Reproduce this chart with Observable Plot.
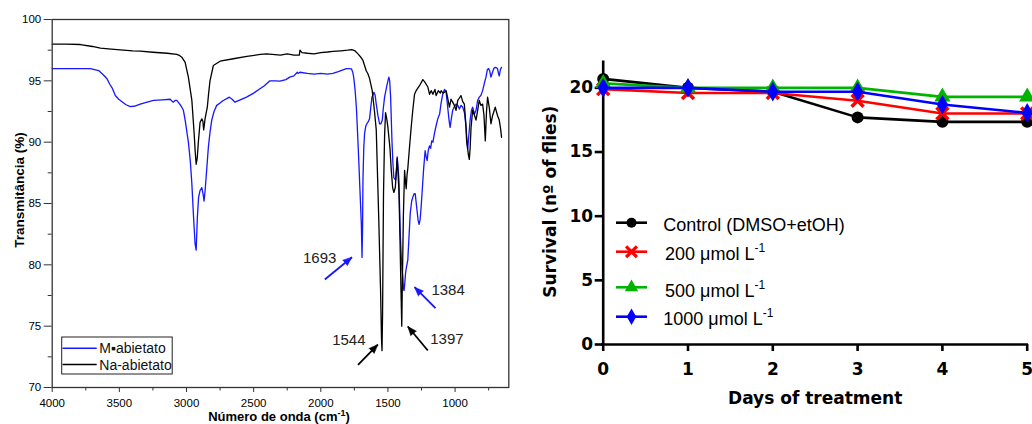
<!DOCTYPE html>
<html><head><meta charset="utf-8">
<script src="https://cdn.jsdelivr.net/npm/d3@7"></script>
<script src="https://cdn.jsdelivr.net/npm/@observablehq/plot@0.6"></script>
<style>
html,body{margin:0;padding:0;background:#fff;}
#wrap{position:relative;width:1032px;height:424px;overflow:hidden;background:#fff;}
#left{position:absolute;left:0;top:0;}
#right{position:absolute;left:530px;top:0;}
#overlay{position:absolute;left:0;top:0;pointer-events:none;}
svg{overflow:visible;}
</style></head><body>
<div id="wrap"><div id="left"></div><div id="right"></div><svg id="overlay" width="1032" height="424"></svg></div>
<script>
// ---------------- Left panel: FTIR spectra ----------------
const naWn = [4000,3900,3790,3700,3641,3560,3493,3400,3344,3250,3144,3072,3050,3035,3010,2986,2960,2943,2935,2928,2920,2911,2899,2886,2878,2872,2866,2862,2845,2835,2825,2800,2750,2651,2550,2450,2403,2300,2250,2200,2160,2155,2140,2100,2050,2000,1950,1910,1850,1800,1770,1748,1723,1700,1686,1661,1650,1637,1617,1600,1587,1568,1555,1548,1544,1540,1533,1525,1518,1510,1500,1485,1475,1465,1456,1445,1438,1431,1425,1418,1410,1403,1397,1392,1385,1376,1368,1364,1358,1352,1340,1327,1315,1302,1290,1265,1240,1225,1203,1190,1178,1165,1150,1141,1125,1110,1104,1090,1079,1067,1055,1042,1030,1018,1005,993,980,968,956,943,931,920,914,900,894,888,881,869,856,844,832,820,808,795,785,775,766,758,745,733,720,701,685,671,660,654];
const naT  = [98.0,98.0,97.96,97.8,97.66,97.58,97.53,97.45,97.42,97.33,97.25,97.15,97.05,96.93,96.5,95.3,93.4,90.7,89.2,88.2,88.7,90.1,91.6,91.9,91.7,91.0,91.5,91.9,92.85,94.0,95.0,96.25,96.6,96.8,97.0,97.15,97.2,97.1,97.2,97.1,97.1,97.5,97.3,97.25,97.2,97.3,97.35,97.4,97.45,97.5,97.55,97.47,97.2,96.9,96.66,95.8,95.6,95.2,94.2,92.5,91.0,83.6,78.0,74.0,73.0,76.0,85.8,90.5,92.4,92.0,91.2,89.5,87.7,86.3,85.9,86.3,87.5,88.7,87.5,86.0,82.0,78.0,75.0,79.0,84.0,87.7,86.6,86.2,87.3,87.85,89.5,91.2,92.6,93.9,94.2,94.6,95.1,94.9,94.5,93.9,94.2,93.9,94.3,93.8,94.2,94.0,94.2,94.0,94.07,94.2,93.6,92.85,93.5,93.26,93.0,92.6,93.4,93.6,93.8,93.3,93.1,91.5,90.1,88.9,88.6,89.5,91.2,92.6,92.2,91.8,92.6,93.4,93.0,93.1,92.2,90.1,92.5,93.67,92.8,91.5,92.2,92.85,92.2,91.8,91.0,90.4];
const mWn = [4000,3900,3800,3716,3654,3620,3592,3570,3554,3530,3505,3480,3450,3418,3380,3344,3300,3245,3180,3121,3105,3097,3085,3072,3050,3035,3023,3010,2986,2972,2960,2948,2936,2928,2919,2910,2899,2886,2877,2869,2862,2854,2837,2825,2812,2795,2775,2750,2726,2700,2681,2660,2639,2600,2553,2500,2453,2420,2379,2340,2305,2260,2231,2200,2175,2169,2156,2100,2050,2000,1950,1910,1870,1835,1809,1790,1772,1762,1755,1745,1735,1725,1716,1708,1698,1693,1689,1686,1680,1674,1665,1657,1645,1637,1628,1619,1604,1595,1587,1575,1562,1552,1542,1535,1525,1508,1498,1493,1487,1480,1470,1463,1456,1443,1437,1431,1425,1419,1414,1409,1400,1395,1389,1384,1380,1376,1369,1364,1352,1343,1334,1323,1315,1305,1297,1285,1275,1268,1260,1253,1245,1235,1223,1215,1208,1200,1191,1182,1174,1165,1154,1140,1129,1115,1104,1092,1079,1067,1055,1045,1037,1028,1018,1005,993,980,968,955,943,930,918,910,906,898,888,878,869,856,844,832,820,808,795,782,770,760,751,742,733,727,721,712,701,690,684,677,671,663,654];
const mT  = [96.0,96.0,96.0,96.0,95.84,95.5,95.17,94.7,94.43,93.8,93.5,93.3,93.05,92.9,92.95,93.1,93.25,93.4,93.45,93.5,93.3,93.26,93.4,93.4,93.1,92.85,92.6,91.8,90.0,88.5,86.6,84.0,81.7,81.2,83.9,85.5,86.06,86.3,85.8,85.2,86.0,87.1,89.6,90.8,91.8,92.5,93.0,93.2,93.4,93.55,93.67,93.5,93.26,93.45,93.67,94.0,94.35,94.6,95.0,95.0,94.97,95.1,95.3,95.4,95.7,95.6,95.7,95.6,95.55,95.6,95.55,95.6,95.75,95.9,96.0,96.0,95.98,95.7,95.3,94.3,92.85,90.5,88.2,86.0,83.3,80.6,83.0,86.9,89.5,90.7,91.3,91.5,91.7,91.9,92.8,93.67,94.07,93.8,93.1,92.2,91.5,91.5,91.8,92.7,93.67,94.6,95.1,95.3,95.0,93.67,90.1,88.3,87.1,86.9,87.7,88.8,88.0,87.1,85.0,82.8,80.5,79.6,79.0,78.0,77.9,78.3,79.3,79.7,80.4,82.3,84.2,85.2,85.5,85.8,85.8,84.6,83.6,83.3,83.7,84.7,86.0,87.7,89.3,88.8,88.5,89.3,89.7,89.5,90.1,90.0,90.7,91.4,91.9,92.3,93.2,93.9,94.3,94.1,92.85,91.8,91.2,91.9,92.6,92.9,93.1,93.0,92.7,93.0,92.85,92.4,91.2,89.9,89.45,90.5,91.8,92.6,92.85,92.3,92.6,93.4,93.67,93.8,94.2,94.8,95.3,95.9,96.0,95.8,95.3,95.5,95.7,96.0,96.1,96.05,96.0,95.6,95.4,95.9,96.1];
const spectrumNames = ["M\u25AAabietato", "Na-abietato"];
const wnMajor = [4000,3500,3000,2500,2000,1500,1000];
const wnMinor = [3750,3250,2750,2250,1750,1250,750];
const tMajor = [70,75,80,85,90,95,100];
const tMinor = [72.5,77.5,82.5,87.5,92.5,97.5];
// peak annotations
const peakLabels = ["1693","1384","1544","1397"];
const peakLabelWn = [2008,1052,1791,1061];
const peakLabelT = [80.57,77.97,73.89,73.97];
const arrowWn1 = [1970,1146,1723,1203];
const arrowT1  = [78.8,76.47,71.85,73.02];
const arrowWn2 = [1768,1302,1575,1352];
const arrowT2  = [80.62,78.18,73.5,74.97];
const arrowIsBlue = [true,true,false,false];

// ---------------- Right panel: survival ----------------
const days = [0,1,2,3,4,5];
const control = [20.7,20.0,19.7,17.7,17.35,17.35];
const s200 = [19.9,19.6,19.6,19.0,18.0,18.0];
const s500 = [20.35,20.0,20.0,20.0,19.3,19.3];
const s1000 = [20.0,20.0,19.7,19.7,18.7,18.05];
const seriesNames = ["Control (DMSO+etOH)","200 \u03BCmol L","500 \u03BCmol L","1000 \u03BCmol L"];
const seriesSup = ["","-1","-1","-1"];
const seriesValues = [control, s200, s500, s1000];
const yTicks = [0,5,10,15,20];

const BLUE_IR = "#1616ff";
const seriesColor = ["#000000","#ff0000","#00b400","#0000ff"];
const seriesSymbol = ["circle","times","triangle","diamond"];

// left geometry
const L = {width: 530, height: 424, marginLeft: 51.7, marginRight: 21.7, marginTop: 19, marginBottom: 37};
const xDomL = [4000, 600], yDomL = [70, 100];
const sx = Plot.scale({x: {domain: xDomL, range: [L.marginLeft, L.width - L.marginRight]}});
const sy = Plot.scale({y: {domain: yDomL, range: [L.height - L.marginBottom, L.marginTop]}});
// arrowhead direction (screen angle, clockwise from up)
const arrowRot = peakLabels.map((_, i) => {
  const dx = sx.apply(arrowWn2[i]) - sx.apply(arrowWn1[i]);
  const dy = sy.apply(arrowT2[i]) - sy.apply(arrowT1[i]);
  return Math.atan2(dx, -dy) * 180 / Math.PI;
});
const arrowColor = arrowIsBlue.map(b => b ? BLUE_IR : "#000");

const left = Plot.plot({
  ...L,
  x: {domain: xDomL},
  y: {domain: yDomL},
  style: {fontFamily: "'Liberation Sans', Arial, sans-serif", fontSize: "11px", color: "#000", background: "transparent"},
  marks: [
    Plot.axisX({ticks: wnMajor, tickSize: 5, tickPadding: 6.5, tickFormat: d3.format("d"), label: null, stroke: "#333", fontSize: 11.5}),
    Plot.axisX({ticks: wnMinor, tickSize: 3.5, tickFormat: () => "", label: null, stroke: "#333"}),
    Plot.axisY({ticks: tMajor, tickSize: 8, tickPadding: 3, tickFormat: d3.format("d"), label: null, stroke: "#333", fontSize: 11.5}),
    Plot.axisY({ticks: tMinor, tickSize: 4, tickFormat: () => "", label: null, stroke: "#333"}),
    Plot.line(mT, {x: mWn, y: d => d, stroke: BLUE_IR, strokeWidth: 1.3}),
    Plot.line(naT, {x: naWn, y: d => d, stroke: "#000", strokeWidth: 1.3}),
    Plot.link(peakLabels, {x1: arrowWn1, y1: arrowT1, x2: arrowWn2, y2: arrowT2,
      stroke: arrowColor, strokeWidth: 1.8}),
    Plot.vector(peakLabels, {x: arrowWn2, y: arrowT2, rotate: arrowRot, length: 9, r: 3.6,
      shape: "spike", anchor: "end", fill: arrowColor, stroke: arrowColor, strokeWidth: 0.5}),
    Plot.text(peakLabels, {x: peakLabelWn, y: peakLabelT, text: d => d, fontSize: 15, fill: "#222"}),
    Plot.frame({stroke: "#333", strokeWidth: 1.3})
  ]
});
document.getElementById("left").appendChild(left);

const seriesMarks = [];
seriesValues.forEach((vals, k) => {
  seriesMarks.push(Plot.line(vals, {x: days, y: d => d, stroke: seriesColor[k], strokeWidth: 2.6}));
  if (seriesSymbol[k] === "times") {
    seriesMarks.push(Plot.dot(vals, {x: days, y: d => d, symbol: "times", stroke: seriesColor[k], fill: "none", strokeWidth: 3.5, r: 5.5}));
  } else {
    seriesMarks.push(Plot.dot(vals, {x: days, y: d => d, symbol: seriesSymbol[k], fill: seriesColor[k], stroke: "none", r: 6}));
  }
});

const right = Plot.plot({
  width: 502, height: 424,
  marginLeft: 72.7, marginRight: 5.3, marginTop: 61.7, marginBottom: 80,
  x: {domain: [0, 5]},
  y: {domain: [0, 22]},
  style: {fontFamily: "'DejaVu Sans', sans-serif", fontSize: "17px", fontWeight: "bold", color: "#000", background: "transparent", overflow: "visible"},
  marks: [
    Plot.axisY({ticks: yTicks, tickSize: 8, tickPadding: 2, strokeWidth: 2.6, tickFormat: d3.format("d"), label: null}),
    Plot.axisX({ticks: days, tickSize: 7, tickPadding: 11, strokeWidth: 2.6, tickFormat: d3.format("d"), label: null}),
    Plot.ruleX([0], {strokeWidth: 2.6, strokeLinecap: "square"}),
    Plot.ruleY([0], {strokeWidth: 2.6, strokeLinecap: "square"}),
    ...seriesMarks
  ]
});
document.getElementById("right").appendChild(right);

// ---------------- Overlay: titles & legends ----------------
const ov = d3.select("#overlay");
const sans = "'Liberation Sans', Arial, sans-serif";
const wide = "'DejaVu Sans', sans-serif";

// left titles
ov.append("text").attr("transform", "translate(23.5,190) rotate(-90)")
  .attr("text-anchor", "middle").attr("font-family", sans).attr("font-weight", "bold")
  .attr("font-size", 13.5).text("Transmitância (%)");
const xt = ov.append("text").attr("x", 279).attr("y", 421).attr("text-anchor", "middle")
  .attr("font-family", sans).attr("font-weight", "bold").attr("font-size", 13);
xt.append("tspan").text("Número de onda (cm");
xt.append("tspan").attr("dy", -5).attr("font-size", 9).text("-1");
xt.append("tspan").attr("dy", 5).text(")");

// left legend
ov.append("rect").attr("x", 61.7).attr("y", 337).attr("width", 110.5).attr("height", 37)
  .attr("fill", "#fff").attr("stroke", "#222").attr("stroke-width", 1);
[[BLUE_IR, 348.3, 352.5], ["#000", 364.5, 369.5]].forEach(([c, ly, ty], i) => {
  ov.append("line").attr("x1", 62.5).attr("x2", 96.7).attr("y1", ly).attr("y2", ly)
    .attr("stroke", c).attr("stroke-width", 1.5);
  ov.append("text").attr("x", 99.3).attr("y", ty).attr("font-family", sans).attr("font-size", 14)
    .attr("fill", "#111").text(spectrumNames[i]);
});

// right titles
ov.append("text").attr("x", 815.2).attr("y", 404).attr("text-anchor", "middle")
  .attr("font-family", wide).attr("font-weight", "bold").attr("font-size", 17).text("Days of treatment");
ov.append("text").attr("transform", "translate(556,201.7) rotate(-90)").attr("text-anchor", "middle")
  .attr("font-family", wide).attr("font-weight", "bold").attr("font-size", 17).text("Survival (n\u00BA of flies)");

// right legend
const legRows = [{ly: 222.7, ty: 230.7, tx: 663.3}, {ly: 251.7, ty: 260, tx: 665}, {ly: 287.3, ty: 296.7, tx: 665}, {ly: 316.7, ty: 325, tx: 663.3}];
const symMap = {circle: d3.symbolCircle, times: d3.symbolTimes, triangle: d3.symbolTriangle, diamond: d3.symbolDiamond};
legRows.forEach((row, k) => {
  ov.append("line").attr("x1", 616).attr("x2", 647).attr("y1", row.ly).attr("y2", row.ly)
    .attr("stroke", seriesColor[k]).attr("stroke-width", 2.6);
  const r = 5;
  const p = ov.append("path").attr("transform", `translate(631.5,${row.ly})`)
    .attr("d", d3.symbol(symMap[seriesSymbol[k]], Math.PI * r * r)());
  if (seriesSymbol[k] === "times") p.attr("fill", "none").attr("stroke", seriesColor[k]).attr("stroke-width", 3.2);
  else p.attr("fill", seriesColor[k]);
  const t = ov.append("text").attr("x", row.tx).attr("y", row.ty).attr("font-family", sans).attr("font-size", 18).attr("fill", "#000");
  t.append("tspan").text(seriesNames[k]);
  if (seriesSup[k]) t.append("tspan").attr("dy", -8).attr("font-size", 12).text(seriesSup[k]);
});
</script>
</body></html>
